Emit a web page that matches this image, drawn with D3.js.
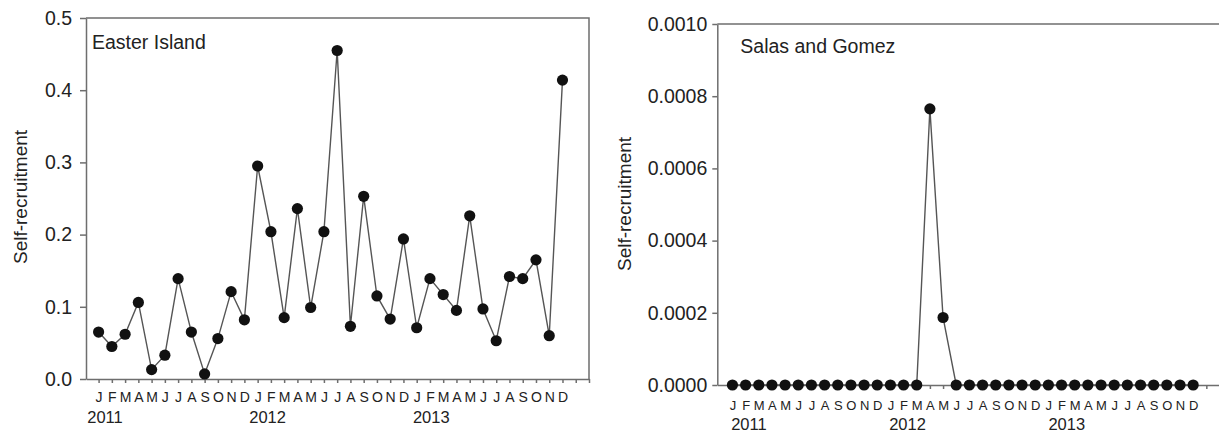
<!DOCTYPE html>
<html>
<head>
<meta charset="utf-8">
<script src="https://cdn.jsdelivr.net/npm/d3@7"></script>
<style>
  body { margin: 0; background: #fff; }
  svg { display: block; font-family: "Liberation Sans", Arial, sans-serif; }
  .axis path, .axis line { stroke: #6e6e6e; stroke-width: 1.5; }
  .axis text { fill: #222; }
</style>
</head>
<body>
<div id="chart"></div>
<script>
// month letters and years shared by both panels
var monthLetters = ["J", "F", "M", "A", "M", "J", "J", "A", "S", "O", "N", "D"];
var years = ["2011", "2012", "2013"];

// self-recruitment per month, Jan 2011 .. Dec 2013
var easterIsland = [
  0.065, 0.045, 0.062, 0.106, 0.013, 0.033, 0.139, 0.065, 0.007, 0.056, 0.121, 0.082,
  0.295, 0.204, 0.085, 0.236, 0.099, 0.204, 0.455, 0.073, 0.253, 0.115, 0.083, 0.194,
  0.071, 0.139, 0.117, 0.095, 0.226, 0.097, 0.053, 0.142, 0.139, 0.165, 0.060, 0.414
];
var salasGomez = [
  0, 0, 0, 0, 0, 0, 0, 0, 0, 0, 0, 0,
  0, 0, 0, 0.000765, 0.000187, 0, 0, 0, 0, 0, 0, 0,
  0, 0, 0, 0, 0, 0, 0, 0, 0, 0, 0, 0
];

var easterTicks = [0, 0.1, 0.2, 0.3, 0.4, 0.5];
var salasTicks = [0, 0.0002, 0.0004, 0.0006, 0.0008, 0.001];

var width = 1219, height = 432;

var svg = d3.select("#chart")
      .append("svg")
      .attr("width", width)
      .attr("height", height);

var panels = [
  {
    title: "Easter Island", values: easterIsland, ticks: easterTicks, fmt: ".1f",
    left: 86, right: 589, top: 18, bottom: 379, xStart: -0.95, rightBorder: true,
    monthFont: 14, monthPad: 8.8, yearY: 423, yearShift: [0.48, 0.75, 1.1],
    labelX: 27, labelY: 197, tickLen: 6, tickPad: 8
  },
  {
    title: "Salas and Gomez", values: salasGomez, ticks: salasTicks, fmt: ".4f",
    left: 717.3, right: 1219.5, top: 24, bottom: 385, xStart: -1.15, rightBorder: false,
    monthFont: 13, monthPad: 11.5, yearY: 430, yearShift: [1.25, 1.3, 1.4],
    labelX: 631, labelY: 204, tickLen: 5, tickPad: 5
  }
];

panels.forEach(function(p) {
  var g = svg.append("g");

  var xScale = d3.scaleLinear()
        .domain([p.xStart, 37])
        .range([p.left, p.right]);

  var yScale = d3.scaleLinear()
        .domain([0, p.ticks[p.ticks.length - 1]])
        .range([p.bottom, p.top]);

  // frame: top line (and right line where it is inside the picture)
  var frame = d3.path();
  frame.moveTo(p.left, p.top);
  frame.lineTo(p.right, p.top);
  if (p.rightBorder) frame.lineTo(p.right, p.bottom);
  g.append("path")
    .attr("d", frame.toString())
    .attr("fill", "none")
    .attr("stroke", "#6e6e6e")
    .attr("stroke-width", 1.5);

  // x axis, one tick per month
  var xAxis = d3.axisBottom(xScale)
        .tickValues(d3.range(0, 38))
        .tickSize(4)
        .tickSizeOuter(0)
        .tickPadding(p.monthPad)
        .tickFormat(function(d) { return d < 36 ? monthLetters[d % 12] : ""; });

  var gx = g.append("g")
        .attr("class", "axis")
        .attr("transform", "translate(0," + p.bottom + ")")
        .call(xAxis);
  gx.selectAll("text").style("font-size", p.monthFont + "px");

  // y axis
  var yAxis = d3.axisLeft(yScale)
        .tickValues(p.ticks)
        .tickSize(p.tickLen)
        .tickSizeOuter(0)
        .tickPadding(p.tickPad)
        .tickFormat(d3.format(p.fmt));

  g.append("g")
    .attr("class", "axis")
    .attr("transform", "translate(" + p.left + ",0)")
    .call(yAxis)
    .selectAll("text").style("font-size", "19.5px");

  // year labels under January of each year
  g.selectAll(".year")
    .data(years)
    .enter()
    .append("text")
    .attr("class", "year")
    .attr("x", function(d, i) { return xScale(i * 12 + p.yearShift[i]); })
    .attr("y", p.yearY)
    .attr("text-anchor", "middle")
    .style("font-size", "16.5px")
    .style("fill", "#222")
    .text(function(d) { return d; });

  // y label
  g.append("text")
    .attr("transform", "translate(" + p.labelX + "," + p.labelY + ") rotate(-90)")
    .attr("text-anchor", "middle")
    .style("font-size", "19px")
    .style("fill", "#222")
    .text("Self-recruitment");

  // panel title
  g.append("text")
    .attr("x", p.left + (p.rightBorder ? 6 : 23))
    .attr("y", p.top + (p.rightBorder ? 31 : 29))
    .style("font-size", "19.5px")
    .style("fill", "#222")
    .text(p.title);

  // series line and dots
  var line = d3.line()
        .x(function(d, i) { return xScale(i); })
        .y(function(d) { return yScale(d); });

  g.append("path")
    .datum(p.values)
    .attr("d", line)
    .attr("fill", "none")
    .attr("stroke", "#555")
    .attr("stroke-width", 1.4);

  g.selectAll(".dot")
    .data(p.values)
    .enter()
    .append("circle")
    .attr("class", "dot")
    .attr("cx", function(d, i) { return xScale(i); })
    .attr("cy", function(d) { return yScale(d); })
    .attr("r", 5.6)
    .attr("fill", "#111");
});
</script>
</body>
</html>
